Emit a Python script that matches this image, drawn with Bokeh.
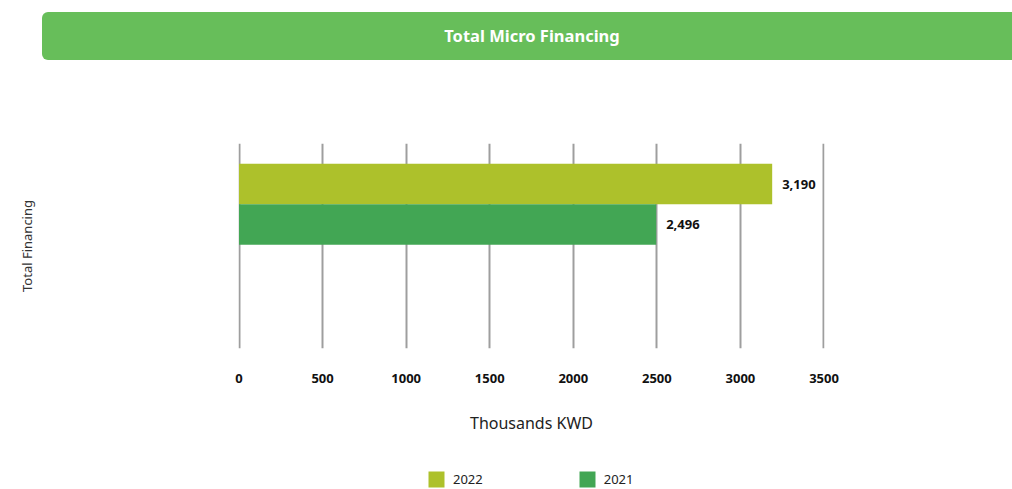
from bokeh.plotting import figure
from bokeh.models import (ColumnDataSource, Range1d, FixedTicker, Legend, LegendItem, Div)
from bokeh.layouts import column
from bokeh.core.properties import value
from bokeh.embed import file_html
from bokeh.resources import INLINE

title_text = "Total Micro Financing"
category = "Total Financing"
series = ["2022", "2021"]
values = [3190, 2496]
colors = ["#ADC12B", "#42A654"]
x_ticks = [0, 500, 1000, 1500, 2000, 2500, 3000, 3500]
x_label = "Thousands KWD"

FONT = "Noto Sans"

header = Div(
    text=(f'<div style="box-sizing:border-box;margin-left:42px;margin-top:12px;height:48px;width:990px;'
          f'background:#67BE5A;border-radius:6px 0 0 6px;color:#ffffff;'
          f'font-family:\'{FONT}\';font-weight:bold;font-size:16.5px;'
          f'display:flex;align-items:center;justify-content:center;padding-right:10px;">'
          f'{title_text}</div>'),
    width=1012, height=60, margin=(0, 0, 0, 0))

slots = [1, 2]
src = ColumnDataSource(dict(
    y=slots, right=values, color=colors, name=series,
    label=[f"{v:,}" for v in values],
))

p = figure(width=1012, height=405, output_backend="svg", toolbar_location=None,
           x_range=Range1d(-3, 3503), y_range=Range1d(5.06, 0),
           min_border_left=238, min_border_right=188, min_border_top=83,
           min_border_bottom=117, outline_line_color=None, margin=(0, 0, 0, 0))

r = p.hbar(y="y", left=0, right="right", height=1.0, color="color", source=src,
           line_color=None)
p.text(x="right", y="y", text="label", source=src, x_offset=10,
       text_baseline="middle", text_align="left", text_font_size="13px",
       text_font_style="bold", text_color="#111111", text_font=value(FONT))

p.xaxis.ticker = FixedTicker(ticks=x_ticks)
p.xaxis.axis_line_color = None
p.xaxis.major_tick_line_color = None
p.xaxis.minor_tick_line_color = None
p.xaxis.major_label_standoff = 19
p.xaxis.major_label_text_font = FONT
p.xaxis.major_label_text_font_style = "bold"
p.xaxis.major_label_text_font_size = "13px"
p.xaxis.major_label_text_color = "#111111"
p.xaxis.axis_label = x_label
p.xaxis.axis_label_text_font = FONT
p.xaxis.axis_label_text_font_style = "normal"
p.xaxis.axis_label_text_font_size = "16px"
p.xaxis.axis_label_text_color = "#222222"
p.xaxis.axis_label_standoff = 26

p.yaxis.ticker = FixedTicker(ticks=[])
p.yaxis.axis_line_color = None
p.yaxis.major_tick_line_color = None
p.yaxis.minor_tick_line_color = None
p.yaxis.axis_label = category
p.yaxis.axis_label_text_font = FONT
p.yaxis.axis_label_text_font_style = "normal"
p.yaxis.axis_label_text_font_size = "13px"
p.yaxis.axis_label_text_color = "#333333"
p.yaxis.axis_label_standoff = 203

p.xgrid.grid_line_color = "#9E9E9E"
p.xgrid.grid_line_width = 2
p.ygrid.grid_line_color = None

# legend strip below the chart (its frame is aligned with the chart frame)
lg = figure(width=1012, height=24, output_backend="svg", toolbar_location=None,
            x_axis_location=None, y_axis_location=None,
            x_range=Range1d(0, 1), y_range=Range1d(0, 1),
            min_border_left=238, min_border_right=188, min_border_top=0,
            min_border_bottom=0, outline_line_color=None, margin=(0, 0, 0, 0))
lg.xgrid.visible = False
lg.ygrid.visible = False
lsrc = ColumnDataSource(dict(y=[-5, -5], right=[0, 0], color=colors))
lr = lg.hbar(y="y", left=0, right="right", height=1, color="color",
             line_color=None, source=lsrc)
items = [LegendItem(label=series[i], renderers=[lr], index=i) for i in range(len(series))]
legend = Legend(items=items, orientation="horizontal", location=(188, 0),
                glyph_width=20, glyph_height=20, label_standoff=7, spacing=94,
                padding=0, margin=0, border_line_color=None,
                background_fill_alpha=0, label_text_font=FONT,
                label_text_font_size="13px", label_text_color="#222222",
                label_height=20)
lg.add_layout(legend, "center")

layout = column(header, p, lg, spacing=0)
open("out.html", "w").write(file_html(layout, INLINE))
